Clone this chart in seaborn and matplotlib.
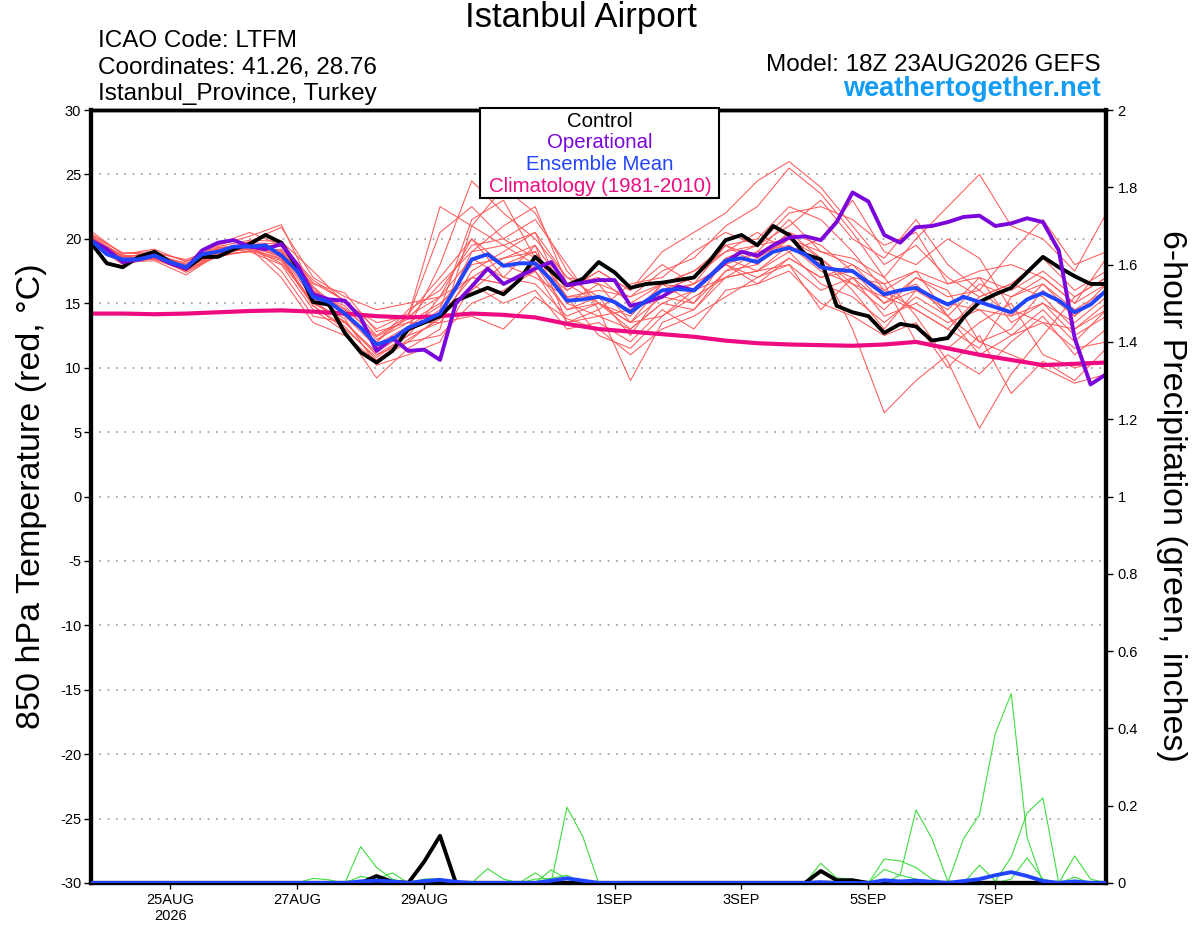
import numpy as np
import pandas as pd
import seaborn as sns
import matplotlib
matplotlib.use("Agg")
import matplotlib.pyplot as plt
from matplotlib.patches import Rectangle

# GEFS run 18Z 23AUG2026, 6-hourly steps out to 8SEP 18Z
times = pd.date_range("2026-08-23 18:00", periods=65, freq="6h")
times12 = times[::2]

# 850 hPa temperature (C), 6-hourly
control = [19.7, 18.1, 17.8, 18.6, 19.0, 18.2, 17.7, 18.6, 18.6, 19.2, 19.6, 20.3, 19.7,
           17.8, 15.1, 14.9, 12.7, 11.2, 10.4, 11.3, 13.0, 13.5, 14.0, 15.2, 15.7, 16.2,
           15.7, 16.8, 18.6, 17.5, 16.4, 16.9, 18.2, 17.4, 16.2, 16.5, 16.6, 16.8, 17.0,
           18.3, 19.9, 20.3, 19.5, 21.0, 20.3, 18.8, 18.4, 14.8, 14.3, 14.0, 12.7, 13.4,
           13.2, 12.1, 12.3, 13.9, 15.1, 15.7, 16.2, 17.4, 18.6, 17.8, 17.1, 16.5, 16.5]
operational = [19.9, 19.2, 18.2, 18.4, 18.7, 18.1, 17.7, 19.1, 19.7, 19.9, 19.4, 19.2, 19.6,
               18.0, 15.7, 15.3, 15.2, 13.9, 11.3, 12.3, 11.3, 11.4, 10.6, 15.0, 16.3, 17.7,
               16.5, 17.1, 17.7, 18.2, 16.4, 16.6, 16.8, 16.8, 14.8, 15.1, 15.5, 16.3, 16.0,
               17.1, 18.2, 19.0, 18.7, 19.5, 20.1, 20.2, 19.9, 21.3, 23.6, 22.9, 20.3, 19.7,
               20.9, 21.0, 21.3, 21.7, 21.8, 21.0, 21.2, 21.6, 21.3, 19.1, 12.3, 8.7, 9.5]
ens_mean = [19.9, 18.8, 18.4, 18.4, 18.7, 18.2, 17.8, 18.8, 19.0, 19.4, 19.4, 19.5, 18.7,
            17.5, 15.5, 15.1, 14.2, 13.1, 11.8, 12.2, 13.1, 13.6, 14.2, 16.2, 18.4, 18.8,
            17.9, 18.1, 18.1, 16.8, 15.2, 15.3, 15.5, 15.1, 14.3, 15.2, 16.0, 16.1, 16.0,
            17.1, 18.3, 18.5, 18.2, 19.0, 19.3, 18.8, 17.8, 17.6, 17.5, 16.6, 15.7, 16.0,
            16.2, 15.5, 14.9, 15.5, 15.1, 14.7, 14.3, 15.3, 15.8, 15.2, 14.3, 14.9, 16.0]

# climatology (1981-2010), 12-hourly
climatology = [14.2, 14.2, 14.15, 14.2, 14.3, 14.4, 14.45, 14.35, 14.2, 14.0, 13.9, 14.0,
               14.2, 14.1, 13.9, 13.4, 13.0, 12.8, 12.6, 12.4, 12.1, 11.9, 11.8, 11.75,
               11.7, 11.8, 12.0, 11.5, 11.0, 10.6, 10.2, 10.3, 10.4]

# ensemble members, 12-hourly
members = [
    [20.4, 18.9, 18.8, 18.0, 19.6, 20.5, 19.5, 16.8, 15.2, 12.5, 14.0, 22.5, 21.0, 19.5, 18.0, 16.0, 17.5, 16.0, 19.0, 20.5, 22.0, 24.5, 26.0, 24.0, 21.0, 18.0, 19.5, 17.0, 15.5, 16.5, 18.5, 16.0, 17.5],
    [19.6, 18.2, 18.3, 17.2, 18.8, 19.0, 18.0, 14.5, 12.8, 9.2, 11.5, 13.0, 21.0, 24.0, 22.0, 17.5, 15.0, 13.5, 14.0, 15.5, 17.0, 18.5, 20.0, 18.0, 13.0, 6.5, 9.0, 11.0, 9.5, 12.0, 14.0, 11.0, 13.0],
    [20.0, 18.6, 18.9, 18.4, 19.3, 19.6, 17.5, 14.0, 13.5, 11.0, 12.5, 15.5, 20.0, 17.0, 19.5, 13.5, 14.0, 13.0, 15.0, 14.5, 17.5, 19.0, 21.5, 19.0, 18.5, 17.0, 14.0, 10.5, 5.3, 9.5, 12.5, 15.5, 17.0],
    [19.8, 18.5, 18.6, 17.9, 19.0, 19.8, 20.9, 17.0, 15.5, 14.5, 15.0, 15.5, 17.0, 16.5, 17.5, 14.5, 15.5, 12.5, 16.0, 17.0, 19.5, 20.0, 22.5, 21.5, 19.0, 16.0, 17.5, 14.0, 12.0, 11.0, 10.0, 8.8, 9.5],
    [20.6, 18.8, 19.2, 18.2, 19.5, 20.2, 21.1, 16.0, 14.5, 11.5, 13.0, 18.0, 24.5, 22.0, 20.0, 17.0, 16.5, 15.5, 17.5, 18.5, 21.0, 22.5, 25.5, 23.5, 20.5, 17.0, 20.0, 22.5, 25.0, 21.0, 20.0, 17.5, 22.0],
    [19.7, 18.0, 18.5, 17.5, 18.9, 19.2, 18.4, 15.0, 13.8, 10.2, 11.0, 12.0, 16.5, 15.0, 16.0, 13.0, 13.5, 12.0, 14.5, 13.0, 16.0, 16.5, 17.5, 15.0, 14.0, 12.5, 13.5, 10.0, 12.5, 8.0, 10.5, 9.0, 11.5],
    [19.9, 18.3, 18.7, 17.6, 18.7, 19.0, 19.2, 16.2, 14.0, 12.0, 14.5, 16.0, 19.5, 20.0, 21.5, 18.0, 14.5, 16.5, 17.0, 19.0, 20.5, 19.5, 21.0, 23.0, 20.0, 18.5, 21.5, 18.0, 16.0, 19.0, 21.5, 18.0, 19.0],
    [20.2, 18.7, 18.4, 17.7, 19.2, 19.7, 18.9, 16.5, 15.8, 12.8, 13.5, 13.5, 17.5, 19.0, 20.5, 15.0, 16.5, 13.5, 16.5, 15.0, 17.5, 18.0, 20.0, 18.5, 16.0, 13.0, 16.0, 14.5, 17.0, 13.5, 15.0, 12.5, 14.0],
    [19.5, 18.4, 18.8, 18.1, 19.0, 19.3, 17.0, 13.5, 12.5, 10.5, 12.0, 14.0, 16.0, 18.0, 17.0, 15.5, 12.5, 11.5, 14.0, 16.0, 18.0, 16.5, 18.5, 17.0, 18.0, 15.5, 14.5, 13.0, 15.5, 16.5, 15.5, 13.0, 15.0],
    [20.1, 18.6, 18.5, 17.9, 19.4, 19.9, 19.8, 17.5, 15.0, 13.5, 14.0, 20.5, 22.5, 20.0, 18.5, 16.5, 17.0, 15.0, 16.5, 17.5, 19.0, 20.5, 19.0, 20.0, 23.0, 19.0, 18.0, 20.0, 18.5, 14.5, 13.5, 13.0, 14.5],
    [19.8, 18.1, 18.6, 17.6, 18.6, 19.1, 18.3, 14.8, 13.0, 10.8, 12.5, 13.5, 14.0, 13.0, 15.5, 13.8, 13.0, 11.0, 13.0, 14.0, 15.5, 17.0, 18.0, 14.5, 17.0, 16.5, 12.0, 11.5, 13.5, 15.0, 11.0, 10.0, 10.5],
    [20.3, 18.9, 19.0, 18.3, 19.1, 19.5, 19.0, 15.8, 14.8, 12.2, 13.5, 15.0, 17.0, 18.5, 19.5, 16.0, 17.5, 16.0, 18.0, 16.5, 19.5, 18.5, 20.5, 19.5, 17.5, 15.0, 17.0, 16.0, 12.0, 13.0, 16.0, 14.0, 16.5],
    [19.9, 18.2, 18.9, 17.8, 18.8, 19.3, 18.1, 15.2, 13.5, 11.2, 12.8, 14.5, 21.5, 23.0, 18.5, 15.0, 14.0, 14.5, 15.5, 15.0, 18.5, 19.5, 22.0, 22.5, 21.5, 19.5, 20.5, 16.5, 17.5, 18.0, 17.0, 15.0, 18.5],
    [19.6, 18.5, 18.4, 17.5, 19.3, 19.6, 19.4, 16.3, 14.2, 12.0, 14.0, 15.5, 18.5, 17.0, 16.5, 14.0, 15.0, 13.0, 15.0, 16.0, 17.0, 17.5, 19.0, 16.5, 15.5, 13.5, 15.5, 14.0, 11.0, 12.5, 13.5, 11.5, 12.0],
    [20.0, 18.3, 18.6, 17.4, 18.7, 19.4, 18.6, 15.4, 14.0, 11.6, 13.0, 14.0, 17.0, 16.5, 18.0, 14.5, 15.0, 14.0, 16.5, 16.0, 18.5, 17.5, 19.5, 17.5, 16.5, 14.5, 17.0, 15.5, 16.0, 14.0, 16.5, 14.5, 16.0],
    [20.2, 18.6, 18.9, 17.9, 19.2, 19.5, 19.1, 15.9, 14.6, 12.4, 13.8, 16.5, 19.0, 19.5, 20.5, 17.0, 15.5, 14.5, 16.0, 17.0, 19.0, 19.5, 20.0, 19.0, 18.0, 16.5, 17.5, 16.5, 17.0, 16.0, 17.5, 15.5, 17.0],
    [19.7, 18.4, 18.5, 17.8, 18.9, 19.2, 18.5, 15.0, 13.6, 11.0, 12.0, 12.5, 15.0, 16.0, 17.5, 13.5, 14.5, 9.0, 13.5, 14.5, 17.0, 17.5, 18.0, 16.0, 17.0, 14.0, 15.0, 13.5, 14.5, 12.5, 14.5, 12.0, 14.5],
    [20.1, 18.7, 18.7, 18.0, 19.1, 19.7, 19.6, 16.6, 15.2, 13.0, 14.2, 17.0, 20.0, 18.0, 19.0, 15.5, 16.0, 15.5, 16.5, 17.5, 19.5, 18.0, 20.5, 18.5, 16.5, 15.5, 16.5, 14.0, 16.5, 15.5, 17.0, 15.0, 16.5],
    [19.9, 18.5, 18.6, 17.7, 19.0, 19.4, 18.8, 15.6, 14.4, 11.8, 13.2, 14.8, 18.0, 18.5, 19.0, 15.5, 15.5, 14.5, 16.0, 16.5, 18.0, 19.0, 19.5, 18.0, 17.0, 15.0, 16.0, 15.0, 14.5, 14.0, 15.0, 13.5, 15.5],
    [19.8, 18.4, 18.8, 17.7, 19.0, 19.6, 18.6, 14.8, 13.2, 10.6, 12.2, 13.8, 19.0, 21.0, 22.5, 16.5, 15.0, 13.5, 15.5, 16.5, 18.0, 17.0, 18.5, 17.0, 17.5, 16.0, 14.5, 13.0, 11.5, 15.5, 16.5, 14.0, 16.0],
]

# 6-hour precipitation (inches): nonzero steps only, everything else is 0
precip_members = [
    {17: 0.094, 18: 0.04, 19: 0.01},
    {17: 0.017, 18: 0.01, 19: 0.026, 21: 0.01, 22: 0.011, 25: 0.037, 26: 0.01, 29: 0.034, 30: 0.01},
    {14: 0.012, 15: 0.008, 28: 0.026, 30: 0.196, 31: 0.12, 46: 0.051, 47: 0.013, 48: 0.01},
    {22: 0.008, 28: 0.01, 29: 0.012, 30: 0.02, 50: 0.062, 51: 0.057, 52: 0.04, 53: 0.01},
    {50: 0.035, 51: 0.02, 52: 0.189, 53: 0.115, 54: 0.005, 56: 0.046, 57: 0.005, 62: 0.07, 63: 0.01},
    {55: 0.115, 56: 0.176, 57: 0.387, 58: 0.49, 59: 0.118},
    {57: 0.005, 58: 0.067, 59: 0.181, 60: 0.22},
    {51: 0.02, 52: 0.01, 58: 0.01, 59: 0.065, 60: 0.01, 62: 0.015},
]
precip_control = {18: 0.018, 19: 0.003, 21: 0.055, 22: 0.122, 46: 0.031, 47: 0.007, 48: 0.007}
precip_mean = {17: 0.004, 18: 0.006, 19: 0.004, 21: 0.005, 22: 0.008, 23: 0.003, 29: 0.006,
               30: 0.012, 31: 0.006, 46: 0.002, 50: 0.007, 51: 0.004, 52: 0.006, 53: 0.003,
               55: 0.005, 56: 0.01, 57: 0.02, 58: 0.028, 59: 0.018, 60: 0.005, 62: 0.004}

tick_dates = ["2026-08-25", "2026-08-27", "2026-08-29", "2026-09-01",
              "2026-09-03", "2026-09-05", "2026-09-07"]
tick_labels = ["25AUG\n2026", "27AUG", "29AUG", "1SEP", "3SEP", "5SEP", "7SEP"]

RED = "#ff5a5a"
GREEN = "#3fdc3f"
PURPLE = "#7a06dc"
BLUE = "#2145ff"
PINK = "#ee0a80"


def fill(spikes):
    vals = np.zeros(len(times))
    for k, v in spikes.items():
        vals[k] = v
    return vals


sns.set_style("white")
plt.rcParams["font.family"] = ["Liberation Sans", "DejaVu Sans"]
plt.rcParams["axes.unicode_minus"] = False
for key in ("text.color", "axes.labelcolor", "xtick.color", "ytick.color"):
    plt.rcParams[key] = "black"

fig = plt.figure(figsize=(12, 9.27), dpi=100)
ax = fig.add_axes([0.0758, 0.0475, 0.8462, 0.8338])
ax2 = ax.twinx()

mem_df = pd.concat([pd.DataFrame({"time": times12, "temp": m, "member": i})
                    for i, m in enumerate(members)])
sns.lineplot(data=mem_df, x="time", y="temp", units="member", estimator=None,
             color=RED, lw=0.75, ax=ax, legend=False, zorder=1)

sns.lineplot(x=times12, y=climatology, color=PINK, lw=3, ax=ax, zorder=3)
sns.lineplot(x=times, y=control, color="black", lw=2.8, ax=ax, zorder=4)
sns.lineplot(x=times, y=operational, color=PURPLE, lw=2.8, ax=ax, zorder=5)
sns.lineplot(x=times, y=ens_mean, color=BLUE, lw=2.8, ax=ax, zorder=6)

pr_df = pd.concat([pd.DataFrame({"time": times, "precip": fill(p), "member": i})
                   for i, p in enumerate(precip_members)])
sns.lineplot(data=pr_df, x="time", y="precip", units="member", estimator=None,
             color=GREEN, lw=0.8, ax=ax2, legend=False, zorder=1)
sns.lineplot(x=times, y=fill(precip_control), color="black", lw=2.8, ax=ax2, zorder=3)
sns.lineplot(x=times, y=fill(precip_mean), color=BLUE, lw=2.8, ax=ax2, zorder=4)

ax.set_xlim(times[0], times[-1])
ax.set_ylim(-30, 30)
ax.set_yticks(range(-30, 31, 5))
ax.yaxis.grid(True, linestyle=(0, (1, 4)), color="#9a9a9a", lw=1.2)
ax.set_xticks(pd.to_datetime(tick_dates))
ax.set_xticklabels(tick_labels)
ax.set_xlabel("")
ax.set_ylabel("")
ax.tick_params(axis="y", direction="out", length=5, width=1, labelsize=10.5, pad=2, left=True)
ax.tick_params(axis="x", direction="out", length=4, width=1, labelsize=10.5, pad=3, bottom=True)

ax2.set_ylim(0, 2)
ax2.set_yticks(np.arange(0, 2.01, 0.2))
ax2.set_yticklabels(["0", "0.2", "0.4", "0.6", "0.8", "1", "1.2", "1.4", "1.6", "1.8", "2"])
ax2.set_ylabel("")
ax2.tick_params(axis="y", direction="out", length=5, width=1, labelsize=10.5, pad=3, right=True)

for a in (ax, ax2):
    for side in ("left", "right", "bottom"):
        a.spines[side].set_linewidth(3)
        a.spines[side].set_color("black")
    a.spines["top"].set_linewidth(2.5)
    a.spines["top"].set_color("black")

# titles and header text
fig.text(581 / 1200, 1 - 18 / 927, "Istanbul Airport", ha="center", va="center", fontsize=25)
for txt, base in [("ICAO Code: LTFM", 47), ("Coordinates: 41.26, 28.76", 74),
                  ("Istanbul_Province, Turkey", 100)]:
    fig.text(98 / 1200, 1 - base / 927, txt, ha="left", va="baseline", fontsize=17.5)
fig.text(1101 / 1200, 1 - 71 / 927, "Model: 18Z 23AUG2026 GEFS", ha="right",
         va="baseline", fontsize=17.5)
fig.text(1101 / 1200, 1 - 96 / 927, "weathertogether.net", ha="right", va="baseline",
         fontsize=19.5, fontweight="bold", color="#129cf3")

fig.text(32 / 1200, 0.4645, "850 hPa Temperature (red, \u00b0C)", rotation=90,
         ha="center", va="center", fontsize=24.5)
fig.text(1172 / 1200, 0.4645, "6-hour Precipitation (green, inches)", rotation=270,
         ha="center", va="center", fontsize=24.5)

# legend box
fig.add_artist(Rectangle((480 / 1200, 1 - 198 / 927), 239 / 1200, 90 / 927,
                         transform=fig.transFigure, facecolor="white",
                         edgecolor="black", lw=1.5, zorder=10))
for txt, col, base in [("Control", "black", 127), ("Operational", PURPLE, 148),
                       ("Ensemble Mean", BLUE, 170),
                       ("Climatology (1981-2010)", PINK, 192)]:
    fig.text(600 / 1200, 1 - base / 927, txt, ha="center", va="baseline",
             fontsize=14.7, color=col, zorder=11)

fig.savefig("out.png", dpi=100)
